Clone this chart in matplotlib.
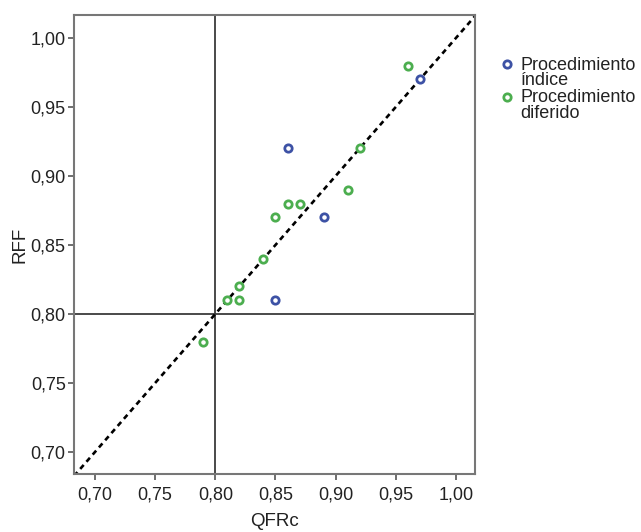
import matplotlib
matplotlib.use("Agg")
from matplotlib import pyplot as plt
from matplotlib.ticker import FuncFormatter
import numpy as np

plt.rcParams['font.family'] = ['Liberation Sans', 'DejaVu Sans']

# Procedimiento índice
indice_qfr = [0.97, 0.86, 0.89, 0.85]
indice_rff = [0.97, 0.92, 0.87, 0.81]

# Procedimiento diferido
diferido_qfr = [0.96, 0.92, 0.91, 0.86, 0.87, 0.85, 0.84, 0.82, 0.81, 0.82, 0.79]
diferido_rff = [0.98, 0.92, 0.89, 0.88, 0.88, 0.87, 0.84, 0.82, 0.81, 0.81, 0.78]

ticks = [0.70, 0.75, 0.80, 0.85, 0.90, 0.95, 1.00]
cutoff = 0.80

fig = plt.figure(figsize=(6.41, 5.32), dpi=100)
ax = fig.add_axes([0.1154, 0.109, 0.6256, 0.863])

xlim = (0.6825, 1.0158)
ylim = (0.684, 1.0167)

# Identity line
lo = min(xlim[0], ylim[0])
hi = max(xlim[1], ylim[1])
ax.plot([lo, hi], [lo, hi], color='black', linestyle=(0, (2.0, 1.6)),
        linewidth=1.9, zorder=2)

# Cut-off lines
ax.axvline(cutoff, color='#3a3a3a', linewidth=1.3, zorder=1)
ax.axhline(cutoff, color='#3a3a3a', linewidth=1.3, zorder=1)

ax.scatter(indice_qfr, indice_rff, s=28, facecolors='white',
           edgecolors='#3d52a5', linewidths=2.0, zorder=3,
           label='Procedimiento\níndice')
ax.scatter(diferido_qfr, diferido_rff, s=28, facecolors='white',
           edgecolors='#4cae4f', linewidths=2.0, zorder=3,
           label='Procedimiento\ndiferido')

ax.set_xlim(*xlim)
ax.set_ylim(*ylim)
ax.set_xticks(ticks)
ax.set_yticks(ticks)
fmt = FuncFormatter(lambda v, p: f"{v:.2f}".replace('.', ','))
ax.xaxis.set_major_formatter(fmt)
ax.yaxis.set_major_formatter(fmt)
ax.tick_params(labelsize=13, color='#555555', length=4, width=1.2,
               labelcolor='#222222', pad=2)
ax.tick_params(axis='x', pad=5)

for s in ax.spines.values():
    s.set_color('#777777')
    s.set_linewidth(1.5)

ax.set_xlabel('QFRc', fontsize=13.5, color='#222222', labelpad=7)
ax.set_ylabel('RFF', fontsize=13.5, color='#222222', labelpad=1)

leg = ax.legend(loc='upper left', bbox_to_anchor=(1.03, 0.925), frameon=False,
                fontsize=13, handletextpad=0.05, labelspacing=0.0,
                borderaxespad=0.0, handlelength=1.4)
# put each marker level with the first line of its label
for col in leg._legend_handle_box.get_children():
    for item in col.get_children():
        item.align = 'top'
for t in leg.get_texts():
    t.set_linespacing(0.9)
    t.set_color('#222222')

plt.savefig("out.png", dpi=100)
